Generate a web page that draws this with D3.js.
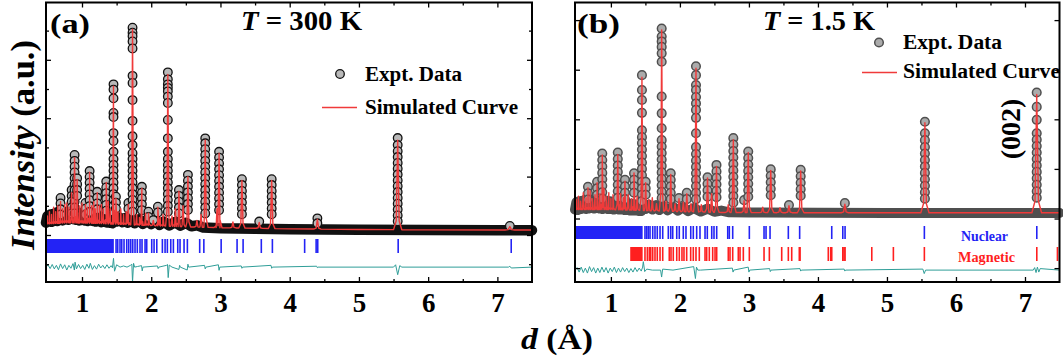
<!DOCTYPE html>
<html><head><meta charset="utf-8">
<script src="https://cdn.jsdelivr.net/npm/d3@7"></script>
<style>
body{margin:0;background:#fff}
svg{display:block}
text{font-family:"Liberation Serif","Times New Roman",serif;font-weight:bold}
</style>
</head><body>
<svg id="c" width="1063" height="358"></svg>
<script>
// ================= DATA =================
const dTicks = [1,2,3,4,5,6,7];
const dMinorTicks = [1.5,2.5,3.5,4.5,5.5,6.5];
const dDomain = [0.48, 7.5];

// ---- Panel (a): T = 300 K ----
const peakD_A   = [0.69,0.85,0.893,0.93,1.05,1.11,1.22,1.35,1.455,1.49,1.67,1.73,1.865,1.96,2.03,2.096,2.24,2.40,2.53,2.78,2.98,3.31,3.56,3.74,4.40,5.56,7.18];
const calcTop_A = [1150,1450,2650,1900,1050,2150,1450,1800,5100,1250,1050,7050,1600,750,500,950,5500,1500,2000,3250,2800,1870,430,1870,540,3250,290];
const obsCol_A = [
  [1270,1080,880,700],
  [1540,1340,1140,940,740],
  [2740,2540,2340,2140,1940,1740,1540,1340,1140,940,740],
  [1940,1740,1540,1340],
  [1100,900,700],
  [2190,1990,1790,1590,1390,1190,990,790],
  [1480,1280,1080,880],
  [1830,1630,1430,1230,1030,830],
  [5160,4980,4680,4180,4040,3490,3220,2850,2600,2400,2200,2000,1800,1600,1400,1200,1000,800],
  [1310,1110,910],
  [1100,900],
  [7100,6930,6810,6630,6390,5450,5210,4620,3910,3380,3080,2800,2600,2400,2200,2000,1800,1600,1400,1200,1000,800],
  [1650,1450,1250,1050,850],
  [800,620],
  [510],
  [970,770],
  [5570,5330,5160,5040,4920,4740,4520,3940,3310,2850,2600,2400,2200,2000,1800,1600,1400,1200,1000,800],
  [1540,1340,1140,940,740],
  [2060,1860,1660,1460,1260,1060,860],
  [3310,3140,2940,2740,2540,2340,2140,1940,1740,1540,1340,1140,940,740],
  [2850,2650,2450,2250,2050,1850,1650,1450,1250,1050,850],
  [1910,1710,1510,1310,1110,910,710],
  [460],
  [1910,1710,1510,1310,1110,910,710],
  [570,400],
  [3320,3080,2870,2670,2470,2270,2070,1870,1670,1470,1270,1070,870,670,470],
  [310]
];
const minorD_A = [0.5,0.53,0.56,0.59,0.62,0.65,0.72,0.75,0.78,0.81,0.97,1.0,1.03,1.08,1.14,1.17,1.19,1.25,1.28,1.31,1.38,1.41,1.52,1.56,1.6,1.64,1.79,1.83,1.92,2.13,2.17,2.3,2.35,2.46,2.66,2.72,2.95,3.18];
const minorI_A = [650,800,700,950,800,1000,900,1050,1100,950,1000,1100,850,950,1000,1150,900,1000,1050,900,1150,900,800,900,700,800,700,600,750,600,700,650,900,1000,500,700,900,450];
const baseD_A = [0.48,0.8,1.2,1.6,2.0,2.5,3.0,4.0,5.0,6.0,7.5];
const baseI_A = [380,420,400,360,320,280,250,210,190,175,170];
const bandD_A = [0.48,0.5,0.52,0.54,0.56,0.58,0.6,0.62,0.64,0.66,0.68,0.7,0.72,0.74,0.76,0.78,0.8,0.82,0.84,0.86,0.88,0.9,0.92,0.94,0.96,0.98,1.0,1.02,1.04,1.06,1.08,1.1,1.12,1.14,1.16,1.18,1.2,1.22,1.24,1.26,1.28,1.3,1.32,1.34,1.36,1.38,1.4,1.42,1.44,1.46,1.5,1.54,1.58,1.62,1.66,1.7,1.76,1.82,1.88,1.94,2.0,2.06,2.12,2.18,2.26,2.34,2.42,2.5,2.58,2.66,2.75,3.0,3.5,4.0,4.5,5.0,6.0,7.0,7.5];
const bandI_A = [420,650,480,700,450,720,500,760,480,800,520,820,500,780,540,800,520,760,560,820,540,780,520,760,500,740,520,780,500,740,480,760,500,720,480,700,460,720,480,680,440,660,460,640,430,620,420,600,400,520,460,600,440,580,420,560,400,540,380,520,370,500,350,460,330,440,320,420,300,330,260,235,215,200,190,180,170,165,165];
const diffD_A = [0.48,0.51,0.54,0.57,0.6,0.63,0.66,0.69,0.72,0.75,0.78,0.81,0.84,0.87,0.89,0.9,0.92,0.95,0.98,1.01,1.04,1.07,1.1,1.12,1.15,1.18,1.21,1.24,1.27,1.3,1.33,1.36,1.39,1.42,1.44,1.455,1.47,1.5,1.55,1.6,1.65,1.7,1.72,1.73,1.745,1.76,1.8,1.86,1.87,1.88,2.09,2.1,2.11,2.22,2.235,2.245,2.26,2.3,2.4,2.41,2.42,2.52,2.53,2.54,2.77,2.78,2.79,2.97,2.98,2.99,3.3,3.31,3.32,3.73,3.74,3.75,4.39,4.4,4.41,5.5,5.53,5.56,5.59,5.62,7.16,7.18,7.2,7.5];
const diffV_A = [0,70,-50,90,-60,60,-90,110,-50,80,-100,60,-40,120,-100,170,-60,90,-50,60,-80,100,-40,130,-80,50,-70,100,-30,60,-50,80,-40,50,-20,300,-140,80,0,40,0,60,100,-520,130,0,20,50,-130,0,40,-50,0,60,90,-360,70,0,-80,60,0,-100,100,0,60,-60,0,80,-110,0,40,-40,0,60,-40,0,30,-20,0,0,80,-260,50,0,0,30,-30,0];
const nucDense_A = [0.48,1.46];
const nuc_A = [1.492,1.516,1.549,1.574,1.607,1.646,1.675,1.704,1.733,1.766,1.799,1.838,1.867,1.911,1.935,2.007,2.041,2.080,2.161,2.200,2.233,2.282,2.320,2.383,2.416,2.474,2.522,2.70,2.76,3.01,3.24,3.327,3.59,3.75,4.216,4.382,4.405,5.567,7.20];

// ---- Panel (b): T = 1.5 K ----
const peakD_B   = [0.668,0.80,0.875,1.10,1.204,1.335,1.45,1.504,1.736,1.867,1.987,2.10,2.233,2.40,2.53,2.774,2.93,2.99,3.316,3.58,3.75,4.39,5.55,7.17];
const calcTop_B = [620,720,1280,1290,750,920,2850,720,3800,890,400,500,3030,820,1050,1590,360,1330,970,260,960,290,1930,2500];
const obsCol_B = [
  [640,510,380],
  [740,610,480],
  [1310,1180,1050,920,790,660,530,400],
  [1330,1200,1070,940,810,680,550,420],
  [780,650,520,390],
  [910,780,650,520],
  [2890,2590,2390,2130,1780,1640,1520,1390,1260,1130,1000,870,740,610,480,350],
  [740,610,480],
  [3830,3670,3570,3460,3330,3160,2460,2120,1820,1580,1450,1320,1190,1060,930,800,670,540,410],
  [910,780,650,520,390],
  [410],
  [520,390],
  [3070,2890,2690,2590,2450,2320,2190,2030,1720,1440,1300,1170,1040,910,780,650,520,390],
  [830,700,570,440],
  [1080,950,820,690,560,430],
  [1620,1490,1360,1230,1100,970,840,710,580,450,320],
  [370],
  [1350,1220,1090,960,830,700,570,440],
  [990,860,730,600,470],
  [270],
  [980,850,720,590,460],
  [310],
  [1950,1720,1580,1440,1310,1180,1050,920,790,660,530,400],
  [2540,2250,1990,1720,1590,1460,1330,1200,1070,940,810,680,550,420]
];
const minorD_B = [0.5,0.53,0.56,0.6,0.64,0.7,0.73,0.77,0.84,0.9,0.93,0.97,1.0,1.03,1.14,1.18,1.25,1.3,1.38,1.55,1.6,1.66,1.8,1.93,2.05,2.16,2.31,2.46,2.7,3.2,3.45];
const minorI_B = [380,450,350,520,420,560,400,480,500,600,450,520,400,480,500,420,480,400,450,380,420,300,350,300,330,300,280,500,280,230,220];
const baseD_B = [0.48,1.0,1.5,2.0,2.6,3.5,7.5];
const baseI_B = [180,180,160,140,122,117,115];
const bandD_B = [0.48,0.5,0.52,0.54,0.56,0.58,0.6,0.62,0.64,0.66,0.68,0.7,0.72,0.74,0.76,0.78,0.8,0.82,0.84,0.86,0.88,0.9,0.92,0.94,0.96,0.98,1.0,1.02,1.04,1.06,1.08,1.1,1.12,1.14,1.16,1.18,1.2,1.22,1.24,1.26,1.28,1.3,1.32,1.34,1.36,1.38,1.4,1.42,1.44,1.46,1.5,1.55,1.6,1.65,1.7,1.76,1.82,1.9,1.97,2.04,2.12,2.2,2.3,2.4,2.5,2.6,2.7,3.0,4.0,5.0,6.0,7.5];
const bandI_B = [180,330,170,350,190,360,200,380,190,370,200,380,210,370,200,380,210,370,200,360,190,370,200,360,190,350,190,340,180,350,190,340,180,330,180,320,170,320,170,300,160,300,160,290,160,280,150,270,150,230,190,280,180,270,170,250,165,240,160,230,150,210,140,200,135,160,128,120,115,113,112,112];
const diffD_B = [0.48,0.51,0.54,0.57,0.6,0.63,0.66,0.69,0.72,0.75,0.78,0.81,0.84,0.87,0.9,0.93,0.96,0.99,1.02,1.05,1.08,1.11,1.14,1.17,1.2,1.23,1.26,1.29,1.32,1.35,1.38,1.41,1.44,1.46,1.47,1.49,1.52,1.6,1.72,1.735,1.75,1.9,2.2,2.225,2.24,2.26,2.3,2.76,2.77,2.78,2.99,3.0,3.01,3.3,3.31,3.32,3.74,3.75,3.76,4.38,4.39,4.4,5.52,5.54,5.56,7.12,7.14,7.16,7.18,7.2,7.22,7.5];
const diffV_B = [0,50,-40,60,-50,40,-60,70,-30,50,-60,40,-50,60,-40,50,-60,40,-30,60,-50,40,-40,50,-30,40,-50,30,-40,50,-30,40,-20,60,170,-30,20,0,0,-140,20,0,70,-170,60,0,0,40,-40,0,60,-40,0,30,-30,0,30,-20,0,20,-20,0,20,-70,0,0,50,-50,60,-40,30,0];
const nucDense_B = [0.48,1.46];
const nuc_B = [1.494,1.519,1.542,1.567,1.606,1.639,1.672,1.712,1.751,1.832,1.867,1.896,1.954,1.991,2.049,2.088,2.157,2.194,2.243,2.291,2.364,2.397,2.461,2.494,2.533,2.693,2.716,2.765,3.006,3.219,3.248,3.306,3.571,3.735,4.20,4.36,4.393,5.542,7.171];
const magDense_B = [1.28,1.46];
const mag_B = [1.494,1.528,1.557,1.577,1.606,1.639,1.672,1.712,1.751,1.846,1.871,1.904,1.954,1.991,2.030,2.059,2.098,2.156,2.194,2.233,2.281,2.364,2.388,2.426,2.475,2.509,2.533,2.701,2.726,2.765,2.846,2.871,2.919,3.006,3.219,3.296,3.475,3.571,3.620,3.730,3.741,4.150,4.185,4.20,4.36,4.378,4.393,4.780,5.093,5.542,7.171,7.470];

// ================= DRAWING =================
const svg = d3.select("#c");
const BLUE = "#2323f5", RED = "#ff1f1f", CALC = "#f03a3a", TEAL = "#2f9e98";

function drawPanel(c){
  const x = d3.scaleLinear().domain(dDomain).range([c.left, c.right]);
  const y = d3.scaleLinear().domain(c.yDom).range([c.bottom, c.top]);
  const g = svg.append("g");
  const line = d3.line().x(d=>x(d[0])).y(d=>y(d[1]));

  // observed background band (dense overlapping data points)
  g.append("path").datum(d3.zip(c.bandD, c.bandI)).attr("d", line)
    .attr("fill","none").attr("stroke", c.obsStroke).attr("stroke-width", c.bandW)
    .attr("stroke-linejoin","round").attr("stroke-linecap","round");

  // observed peak points
  const pts = [];
  c.peakD.forEach((d,i)=>c.obsCol[i].forEach(v=>pts.push([d,v])));
  g.append("g").selectAll("circle").data(pts).enter().append("circle")
    .attr("cx",d=>x(d[0])).attr("cy",d=>y(d[1])).attr("r",4.3)
    .attr("fill",c.obsFill).attr("stroke",c.obsStroke).attr("stroke-width",c.obsSW);

  // calculated curve
  const baseS = d3.scaleLinear().domain(c.baseD).range(c.baseI);
  const spikes = c.peakD.map((d,i)=>[d,c.calcTop[i]]).concat(c.minorD.map((d,i)=>[d,c.minorI[i]]));
  const hw = d => (1.6 + 0.45*d) / 69;   // peak half-width (style)
  const verts = [];
  c.baseD.forEach((d,i)=>{ if(!spikes.some(s=>Math.abs(s[0]-d) < hw(s[0]))) verts.push([d,c.baseI[i]]); });
  spikes.forEach(([d,t])=>{
    const h = hw(d), b = baseS(d);
    verts.push([d-h, baseS(d-h)], [d-h*0.35, b+(t-b)*0.1], [d,t], [d+h*0.35, b+(t-b)*0.1], [d+h, baseS(d+h)]);
  });
  verts.sort((a,b)=>a[0]-b[0]);
  g.append("path").datum(verts).attr("d", line).attr("fill","none")
    .attr("stroke",CALC).attr("stroke-width",1.4).attr("stroke-linejoin","round");

  // Bragg reflections
  c.rows.forEach(r=>{
    g.append("rect").attr("x", x(r.dense[0])).attr("width", x(r.dense[1])-x(r.dense[0]))
      .attr("y", r.y0).attr("height", r.y1-r.y0).attr("fill", r.color);
    g.append("g").selectAll("line").data(r.ticks).enter().append("line")
      .attr("x1",d=>x(d)).attr("x2",d=>x(d)).attr("y1",r.y0).attr("y2",r.y1)
      .attr("stroke",r.color).attr("stroke-width",1.6);
  });

  // difference curve
  g.append("path").datum(d3.zip(c.diffD, c.diffV.map(v=>v + c.diffOffset))).attr("d", line)
    .attr("fill","none").attr("stroke",TEAL).attr("stroke-width",1);

  // axes (inward ticks)
  const fix = s => { s.select(".domain").remove(); s.selectAll("line").attr("stroke-width",1.3); };
  const ax = (gen, tr) => g.append("g").attr("transform", tr).call(gen).call(fix);
  const bx = ax(d3.axisBottom(x).tickValues(dTicks).tickSize(-5).tickSizeOuter(0).tickPadding(11).tickFormat(d3.format("d")), `translate(0,${c.bottom})`);
  bx.attr("font-size",27).attr("font-family",null).selectAll("text").attr("fill","#000");
  ax(d3.axisBottom(x).tickValues(dMinorTicks).tickSize(-3).tickSizeOuter(0).tickFormat(""), `translate(0,${c.bottom})`);
  ax(d3.axisTop(x).tickValues(dTicks).tickSize(-5).tickSizeOuter(0).tickFormat(""), `translate(0,${c.top})`);
  ax(d3.axisTop(x).tickValues(dMinorTicks).tickSize(-3).tickSizeOuter(0).tickFormat(""), `translate(0,${c.top})`);
  ax(d3.axisLeft(y).tickValues(c.yMajor).tickSize(-5).tickSizeOuter(0).tickFormat(""), `translate(${c.left},0)`);
  ax(d3.axisRight(y).tickValues(c.yMajor).tickSize(-5).tickSizeOuter(0).tickFormat(""), `translate(${c.right},0)`);
  if (c.yMinor.length){
    ax(d3.axisLeft(y).tickValues(c.yMinor).tickSize(-3).tickSizeOuter(0).tickFormat(""), `translate(${c.left},0)`);
    ax(d3.axisRight(y).tickValues(c.yMinor).tickSize(-3).tickSizeOuter(0).tickFormat(""), `translate(${c.right},0)`);
  }

  // frame
  g.append("rect").attr("x",c.left).attr("y",c.top).attr("width",c.right-c.left).attr("height",c.bottom-c.top)
    .attr("fill","none").attr("stroke","#000").attr("stroke-width",2);

  // panel label & title
  g.append("text").attr("x",c.lab.x).attr("y",c.lab.y).attr("font-size",28)
    .attr("textLength",c.lab.w).attr("lengthAdjust","spacingAndGlyphs").text(c.lab.t);
  const tt = g.append("text").attr("x",c.title.x).attr("y",c.title.y).attr("font-size",27)
    .attr("textLength",c.title.w).attr("lengthAdjust","spacingAndGlyphs");
  tt.append("tspan").attr("font-style","italic").text("T");
  tt.append("tspan").text(" = " + c.title.t);

  // legend
  const L = c.leg;
  g.append("circle").attr("cx",L.cx).attr("cy",L.cy).attr("r",4.3)
    .attr("fill",c.obsFill).attr("stroke",c.obsStroke).attr("stroke-width",c.obsSW);
  g.append("text").attr("x",L.tx).attr("y",L.ty1).attr("font-size",20)
    .attr("textLength",L.w1).attr("lengthAdjust","spacingAndGlyphs").text("Expt. Data");
  g.append("line").attr("x1",L.lx0).attr("x2",L.lx1).attr("y1",L.ly).attr("y2",L.ly)
    .attr("stroke",CALC).attr("stroke-width",1.5);
  g.append("text").attr("x",L.tx).attr("y",L.ty2).attr("font-size",20)
    .attr("textLength",L.w2).attr("lengthAdjust","spacingAndGlyphs").text("Simulated Curve");
  return g;
}

drawPanel({
  left:46, right:532, top:2.5, bottom:282, yDom:[-1610,7963],
  yMajor:[0,2000,4000,6000], yMinor:[-1000,1000,3000,5000,7000],
  peakD:peakD_A, calcTop:calcTop_A, obsCol:obsCol_A, minorD:minorD_A, minorI:minorI_A,
  baseD:baseD_A, baseI:baseI_A, bandD:bandD_A, bandI:bandI_A, bandW:10.5,
  diffD:diffD_A, diffV:diffV_A, diffOffset:-1100,
  obsFill:"#b9b9b9", obsStroke:"#111", obsSW:1.3,
  rows:[{dense:nucDense_A, ticks:nuc_A, y0:239, y1:253, color:BLUE}],
  lab:{x:50,y:33,w:40,t:"(a)"}, title:{x:241,y:30,w:121,t:"300 K"},
  leg:{cx:340,cy:74,tx:365,ty1:81,w1:97,lx0:322,lx1:357,ly:107.5,ty2:114,w2:153}
});

const gb = drawPanel({
  left:575, right:1059.5, top:2.5, bottom:282, yDom:[-1280,4355],
  yMajor:[-1000,0,1000,2000,3000,4000], yMinor:[],
  peakD:peakD_B, calcTop:calcTop_B, obsCol:obsCol_B, minorD:minorD_B, minorI:minorI_B,
  baseD:baseD_B, baseI:baseI_B, bandD:bandD_B, bandI:bandI_B, bandW:10,
  diffD:diffD_B, diffV:diffV_B, diffOffset:-1040,
  obsFill:"#ababab", obsStroke:"#4f4f4f", obsSW:1.5,
  rows:[{dense:nucDense_B, ticks:nuc_B, y0:226, y1:239, color:BLUE},
        {dense:magDense_B, ticks:mag_B, y0:247, y1:261, color:RED}],
  lab:{x:577,y:33,w:43,t:"(b)"}, title:{x:763,y:30,w:112,t:"1.5 K"},
  leg:{cx:879,cy:42.5,tx:903,ty1:49,w1:99,lx0:862,lx1:897,ly:72.5,ty2:78,w2:157}
});

// panel (b) annotations
gb.append("text").attr("transform","translate(1019.5,129) rotate(-90)").attr("text-anchor","middle")
  .attr("font-size",28).text("(002)");
gb.append("text").attr("x",961).attr("y",241).attr("font-size",14).attr("fill",BLUE)
  .attr("textLength",47).attr("lengthAdjust","spacingAndGlyphs").text("Nuclear");
gb.append("text").attr("x",958).attr("y",261.5).attr("font-size",14).attr("fill",RED)
  .attr("textLength",57).attr("lengthAdjust","spacingAndGlyphs").text("Magnetic");

// shared axis titles
const yl = svg.append("text").attr("transform","translate(34,145) rotate(-90)").attr("text-anchor","middle")
  .attr("font-size",34).attr("textLength",210).attr("lengthAdjust","spacingAndGlyphs");
yl.append("tspan").attr("font-style","italic").text("Intensity");
yl.append("tspan").text(" (a.u.)");
const xl = svg.append("text").attr("x",521).attr("y",349).attr("font-size",30)
  .attr("textLength",72).attr("lengthAdjust","spacingAndGlyphs");
xl.append("tspan").attr("font-style","italic").text("d");
xl.append("tspan").text(" (Å)");
</script>
</body></html>
